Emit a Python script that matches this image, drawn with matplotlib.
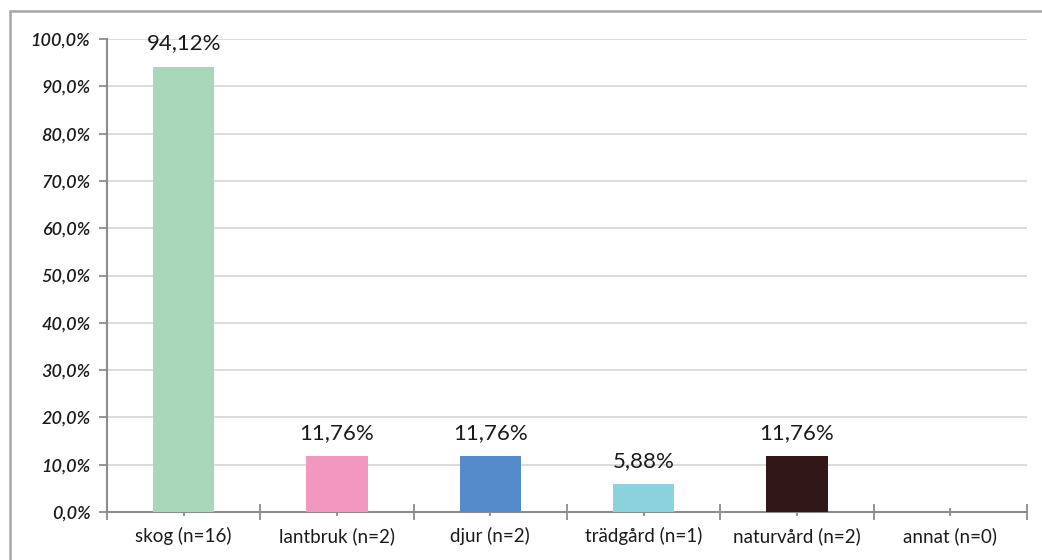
import matplotlib
matplotlib.use("Agg")
import matplotlib.pyplot as plt
from matplotlib.patches import Rectangle
import numpy as np

categories = ["skog (n=16)", "lantbruk (n=2)", "djur (n=2)", "trädgård (n=1)", "naturvård (n=2)", "annat (n=0)"]
values = [94.12, 11.76, 11.76, 5.88, 11.76, 0.0]
labels = ["94,12%", "11,76%", "11,76%", "5,88%", "11,76%", ""]
colors = ["#a8d8b9", "#f197c0", "#548ccb", "#8ad3dc", "#301818", "#cccccc"]
yticks = [0, 10, 20, 30, 40, 50, 60, 70, 80, 90, 100]
ytick_labels = ["0,0%", "10,0%", "20,0%", "30,0%", "40,0%", "50,0%", "60,0%", "70,0%", "80,0%", "90,0%", "100,0%"]

plt.rcParams['font.family'] = ['Lato', 'DejaVu Sans']

W, H = 1042, 560
fig = plt.figure(figsize=(W/100, H/100), dpi=100)
fig.patch.set_facecolor("white")

# outer frame
fig.add_artist(Rectangle((10/W, -0.05), 1.2, 1 - 11/H + 0.05, transform=fig.transFigure,
                         fill=False, edgecolor="#a6a6a6", linewidth=1.8))

ax = fig.add_axes([107/W, 1 - 512/H, (1027-107)/W, (512-39)/H])
x = np.arange(len(categories))
bars = ax.bar(x, values, width=0.4, color=colors, zorder=3)
for xi, v, lab in zip(x, values, labels):
    if lab:
        ax.text(xi, v + 2.8, lab, ha="center", va="bottom", fontsize=16, color="#1a1a1a")

ax.set_xlim(-0.5, len(categories) - 0.5)
ax.set_ylim(0, 100)
ax.set_yticks(yticks)
ax.set_yticklabels(ytick_labels, fontsize=13, fontstyle="italic", fontweight="semibold", color="#1a1a1a")
ax.yaxis.grid(True, color="#d9d9d9", linewidth=1.3, zorder=0)
ax.set_axisbelow(True)

ax.set_xticks(x)
ax.set_xticklabels(categories, fontsize=13.5, color="#1a1a1a")
ax.set_xticks(np.arange(-0.5, len(categories)), minor=True)
ax.tick_params(axis="x", which="major", direction="inout", length=6, width=1.3, color="#8c8c8c", pad=8)
ax.tick_params(axis="x", which="minor", direction="inout", length=12, width=1.3, color="#8c8c8c")
ax.tick_params(axis="y", which="major", direction="out", length=6, width=1.3, color="#8c8c8c", pad=6)

for s in ["top", "right"]:
    ax.spines[s].set_visible(False)
for s in ["left", "bottom"]:
    ax.spines[s].set_color("#8c8c8c")
    ax.spines[s].set_linewidth(1.5)

fig.savefig("out.png", dpi=100)
